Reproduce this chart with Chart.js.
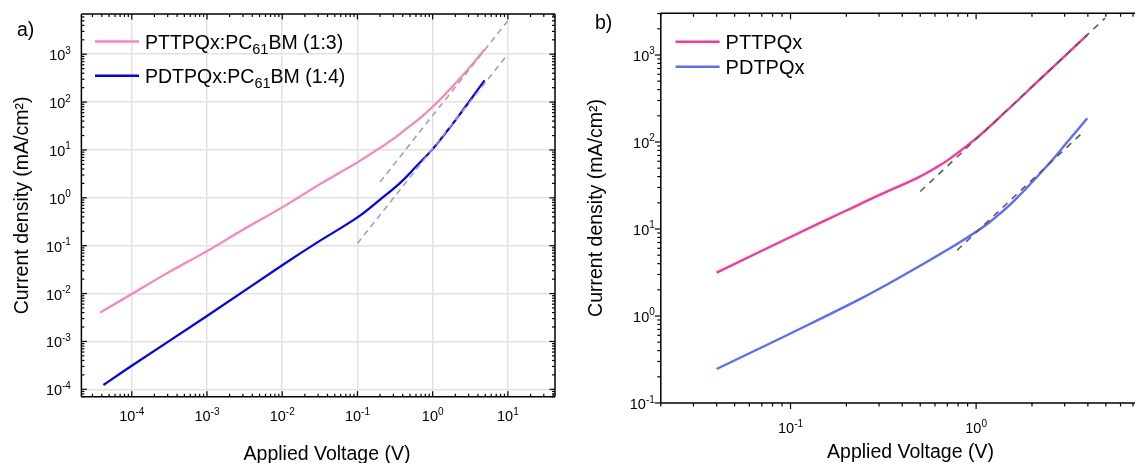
<!DOCTYPE html>
<html>
<head>
<meta charset="utf-8">
<script src="https://cdn.jsdelivr.net/npm/chart.js@4.4.1/dist/chart.umd.min.js"></script>
<style>
  html, body { margin: 0; padding: 0; background: #fff; }
  .panel { position: absolute; left: 0; top: 0; width: 1135px; height: 463px; }
</style>
</head>
<body>
<div class="panel"><canvas id="chartA"></canvas></div>
<div class="panel"><canvas id="chartB"></canvas></div>
<script>
// ---- panel a) blend devices, voltage (V) vs current density (mA/cm2)
const blendPinkV = [3.8e-5, 1e-4, 3e-4, 1e-3, 3e-3, 1e-2, 0.033, 0.1, 0.19, 0.3, 0.41, 0.7, 1.2, 1.88, 3.0, 4.9];
const blendPinkJ = [0.004, 0.0098, 0.027, 0.077, 0.215, 0.63, 2.0, 5.5, 10.5, 17, 25, 48, 105, 220, 500, 1250];
const blendBlueV = [4.2e-5, 1e-4, 1e-3, 1e-2, 0.03, 0.1, 0.2, 0.37, 0.61, 1.0, 1.53, 1.99, 3.0, 4.9];
const blendBlueJ = [1.23e-4, 3.1e-4, 3.4e-3, 0.039, 0.12, 0.39, 0.92, 2.05, 4.6, 10.4, 24, 41, 98, 285];
const blendFitUpperV = [0.2, 10];
const blendFitUpperJ = [2.15, 5000];
const blendFitLowerV = [0.1, 10];
const blendFitLowerJ = [0.112, 1000];
const blendNames = [['PTTPQx:PC', '61', 'BM (1:3)'], ['PDTPQx:PC', '61', 'BM (1:4)']];
const blendXExp = [-4, -3, -2, -1, 0, 1];
const blendYExp = [-4, -3, -2, -1, 0, 1, 2, 3];

// ---- panel b) neat polymers
const neatPinkV = [0.04, 0.1, 0.2, 0.3, 0.48, 0.6, 0.72, 1.0, 1.4, 2.2, 3.97];
const neatPinkJ = [3.15, 8.1, 16.3, 24.5, 38.5, 50, 64, 110, 210, 520, 1700];
const neatBlueV = [0.04, 0.1, 0.232, 0.366, 0.723, 1.0, 1.19, 1.6, 2.5, 3.1, 3.97];
const neatBlueJ = [0.246, 0.63, 1.53, 2.59, 6.0, 9.3, 12.1, 21, 58, 100, 187];
const neatFitUpperV = [0.5, 4.95];
const neatFitUpperJ = [27, 2650];
const neatFitLowerV = [0.79, 3.71];
const neatFitLowerJ = [5.7, 126];
const neatNames = [['PTTPQx'], ['PDTPQx']];
const neatXExp = [-1, 0];
const neatYExp = [-1, 0, 1, 2, 3];

const xTitle = 'Applied Voltage (V)';
const yTitle = 'Current density (mA/cm\u00B2)';

const FONT = '"Liberation Sans", Arial, sans-serif';

const pts = (vs, js) => vs.map((v, i) => ({ x: v, y: js[i] }));

function decadeTicks(min, max) {
  const major = [], minor = [];
  for (let e = Math.floor(Math.log10(min)); e <= Math.ceil(Math.log10(max)); e++) {
    for (let k = 1; k <= 9; k++) {
      const v = k * Math.pow(10, e);
      if (v < min * 0.9999 || v > max * 1.0001) continue;
      (k === 1 ? major : minor).push(v);
    }
  }
  return { major, minor };
}

function logAxis(min, max, grid) {
  return {
    type: 'logarithmic', min, max,
    border: { display: false },
    ticks: { display: false },
    grid: { display: grid, drawTicks: false, color: '#e2e2e2', lineWidth: 1.5 },
    afterBuildTicks: s => { s.ticks = decadeTicks(min, max).major.map(v => ({ value: v })); },
    afterFit: s => { if (s.isHorizontal()) s.height = 0; else s.width = 0; }
  };
}

function drawPow(ctx, exp, x, y, align) {
  ctx.font = '14.5px ' + FONT;
  const wb = ctx.measureText('10').width;
  ctx.font = '10px ' + FONT;
  const ws = ctx.measureText(String(exp)).width;
  const x0 = align === 'right' ? x - wb - ws : x - (wb + ws) / 2;
  ctx.textAlign = 'left';
  ctx.textBaseline = 'alphabetic';
  ctx.font = '14.5px ' + FONT;
  ctx.fillText('10', x0, y);
  ctx.font = '10px ' + FONT;
  ctx.fillText(String(exp), x0 + wb, y - 6.5);
}

// axes frame, ticks, labels, legend and titles
const framePlugin = {
  id: 'frame',
  afterDraw(chart, args, o) {
    const { ctx, chartArea: a, scales: { x, y } } = chart;
    ctx.save();
    ctx.strokeStyle = '#000';
    ctx.lineWidth = 1.5;
    ctx.lineCap = 'butt';

    const xt = decadeTicks(x.min, x.max), yt = decadeTicks(y.min, y.max);
    const sides = {
      bottom: { vals: xt, pos: v => x.getPixelForValue(v), at: a.bottom, nx: 0, ny: -1, from: [a.left, a.bottom], to: [a.right, a.bottom] },
      top:    { vals: xt, pos: v => x.getPixelForValue(v), at: a.top, nx: 0, ny: 1, from: [a.left, a.top], to: [a.right, a.top] },
      left:   { vals: yt, pos: v => y.getPixelForValue(v), at: a.left, nx: 1, ny: 0, from: [a.left, a.top], to: [a.left, a.bottom] },
      right:  { vals: yt, pos: v => y.getPixelForValue(v), at: a.right, nx: -1, ny: 0, from: [a.right, a.top], to: [a.right, a.bottom] }
    };
    for (const name in o.sides) {
      const dir = o.sides[name];
      const s = sides[name];
      ctx.beginPath();
      ctx.moveTo(s.from[0], s.from[1]);
      ctx.lineTo(s.to[0], s.to[1]);
      ctx.stroke();
      const mark = (v, len) => {
        const p = s.pos(v);
        const horiz = s.ny !== 0;
        const x0 = horiz ? p : s.at, y0 = horiz ? s.at : p;
        ctx.beginPath();
        ctx.moveTo(x0, y0);
        ctx.lineTo(x0 + s.nx * dir * len, y0 + s.ny * dir * len);
        ctx.stroke();
      };
      ctx.lineWidth = 1.2;
      s.vals.major.forEach(v => mark(v, o.majorLen));
      s.vals.minor.forEach(v => mark(v, o.minorLen));
      ctx.lineWidth = 1.5;
    }

    ctx.fillStyle = '#000';
    o.xExp.forEach(e => drawPow(ctx, e, x.getPixelForValue(Math.pow(10, e)), a.bottom + o.xLabelGap, 'center'));
    o.yExp.forEach(e => drawPow(ctx, e, a.left - o.yLabelGap, y.getPixelForValue(Math.pow(10, e)) + 6, 'right'));

    // legend
    o.legend.forEach((item, i) => {
      const ly = o.legendY + i * o.legendStep;
      ctx.strokeStyle = item.color;
      ctx.lineWidth = 2.5;
      ctx.beginPath();
      ctx.moveTo(o.legendX, ly);
      ctx.lineTo(o.legendX + 44, ly);
      ctx.stroke();
      let tx = o.legendX + 50;
      ctx.textAlign = 'left';
      ctx.textBaseline = 'alphabetic';
      item.parts.forEach((part, k) => {
        const sub = k % 2 === 1;
        ctx.font = (sub ? '14.5px ' : o.legendFont + 'px ') + FONT;
        ctx.fillText(part, tx, ly + 7.5 + (sub ? 5 : 0));
        tx += ctx.measureText(part).width;
      });
    });

    // titles
    ctx.font = '19.5px ' + FONT;
    ctx.textAlign = 'center';
    ctx.fillText(xTitle, o.xTitle[0], o.xTitle[1]);
    ctx.save();
    ctx.translate(o.yTitle[0], o.yTitle[1]);
    ctx.rotate(-Math.PI / 2);
    ctx.fillText(yTitle, 0, 0);
    ctx.restore();
    ctx.textAlign = 'left';
    ctx.fillText(o.tag, o.tagPos[0], o.tagPos[1]);
    ctx.restore();
  }
};

function lineSet(label, vs, js, color, width, order) {
  return { label, data: pts(vs, js), borderColor: color, borderWidth: width, pointRadius: 0,
           tension: 0.4, fill: false, order };
}
function fitSet(vs, js, color, width, dash) {
  return { label: 'fit', data: pts(vs, js), borderColor: color, borderWidth: width, borderDash: dash,
           pointRadius: 0, fill: false, order: 0 };
}

function makeChart(id, datasets, xr, yr, grid, padding, frame) {
  return new Chart(document.getElementById(id), {
    type: 'line',
    data: { datasets },
    options: {
      responsive: true,
      maintainAspectRatio: false,
      animation: false,
      events: [],
      layout: { padding },
      scales: { x: logAxis(xr[0], xr[1], grid), y: logAxis(yr[0], yr[1], grid) },
      plugins: { legend: { display: false }, tooltip: { enabled: false }, frame }
    },
    plugins: [framePlugin]
  });
}

const aPink = '#ff80c0', aBlue = '#0000ff', bPink = '#ff3399', bBlue = '#5b6cff';

makeChart('chartA', [
  lineSet(blendNames[0].join(''), blendPinkV, blendPinkJ, aPink, 2.2, 1),
  lineSet(blendNames[1].join(''), blendBlueV, blendBlueJ, aBlue, 2.2, 1),
  fitSet(blendFitUpperV, blendFitUpperJ, '#a3a3a3', 1.6, [6, 4.5]),
  fitSet(blendFitLowerV, blendFitLowerJ, '#a3a3a3', 1.6, [6, 4.5])
], [2.14e-5, 42.3], [7.24e-5, 6920], true,
  { left: 81.4, top: 14, right: 580, bottom: 66.3 },
  {
    sides: { bottom: 1, top: 1, left: 1, right: 1 }, majorLen: 5.5, minorLen: 3,
    xExp: blendXExp, yExp: blendYExp, xLabelGap: 24.5, yLabelGap: 10.5,
    legend: [{ parts: blendNames[0], color: aPink }, { parts: blendNames[1], color: aBlue }],
    legendX: 95, legendY: 41.5, legendStep: 34.3, legendFont: 19.5,
    xTitle: [327, 460], yTitle: [27.5, 205.4], tag: 'a)', tagPos: [17, 35.5]
  });

makeChart('chartB', [
  lineSet(neatNames[0].join(''), neatPinkV, neatPinkJ, bPink, 2.4, 1),
  lineSet(neatNames[1].join(''), neatBlueV, neatBlueJ, bBlue, 2.4, 1),
  fitSet(neatFitUpperV, neatFitUpperJ, '#5a5a5a', 1.6, [6.5, 6]),
  fitSet(neatFitLowerV, neatFitLowerJ, '#5a5a5a', 1.6, [6.5, 6])
], [0.02, 7.18], [0.1, 3015], false,
  { left: 660.8, top: 13.3, right: 0, bottom: 60 },
  {
    sides: { bottom: -1, top: 1, left: -1 }, majorLen: 6, minorLen: 3.5,
    xExp: neatXExp, yExp: neatYExp, xLabelGap: 30, yLabelGap: 6,
    legend: [{ parts: neatNames[0], color: bPink }, { parts: neatNames[1], color: bBlue }],
    legendX: 675.6, legendY: 41.7, legendStep: 25, legendFont: 20,
    xTitle: [910.5, 458], yTitle: [602, 208], tag: 'b)', tagPos: [595, 28.5]
  });
</script>
</body>
</html>
